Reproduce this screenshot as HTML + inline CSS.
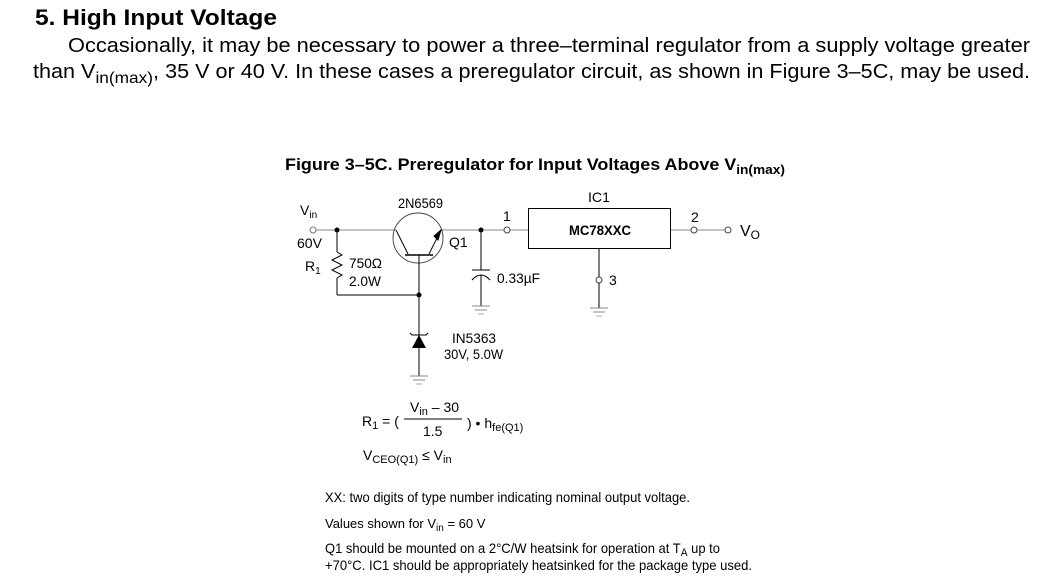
<!DOCTYPE html>
<html><head><meta charset="utf-8"><style>
html,body{margin:0;padding:0;background:#fff;width:1055px;height:587px;overflow:hidden}
svg{display:block}
text{font-family:"Liberation Sans",sans-serif;fill:#000}
</style></head><body>
<svg width="1055" height="587" viewBox="0 0 1055 587" xmlns="http://www.w3.org/2000/svg">
<text x="35" y="25" font-size="22" font-weight="bold" textLength="242" lengthAdjust="spacingAndGlyphs">5.  High Input Voltage</text>
<text x="68" y="52" font-size="20" textLength="962" lengthAdjust="spacingAndGlyphs">Occasionally, it may be necessary to power a three–terminal regulator from a supply voltage greater</text>
<text x="33" y="78" font-size="20" textLength="997" lengthAdjust="spacingAndGlyphs">than V<tspan font-size="16" dy="5">in(max)</tspan><tspan dy="-5">, 35 V or 40 V. In these cases a preregulator circuit, as shown in Figure 3–5C, may be used.</tspan></text>

<text x="285" y="170" font-size="17" font-weight="bold" textLength="500" lengthAdjust="spacingAndGlyphs">Figure 3–5C. Preregulator for Input Voltages Above V<tspan font-size="13" dy="4">in(max)</tspan></text>

<g stroke="#000" stroke-width="1" fill="none">
<line x1="316" y1="230" x2="396" y2="230" stroke="#888"/>
<line x1="441" y1="230" x2="504" y2="230" stroke="#888"/>
<line x1="510" y1="230" x2="528" y2="230" stroke="#888"/>
<line x1="670" y1="230" x2="691" y2="230" stroke="#888"/>
<line x1="697" y1="230" x2="725" y2="230" stroke="#888"/>
<circle cx="313" cy="230" r="3" fill="#fff" stroke="#777"/>
<circle cx="507" cy="230" r="3" fill="#fff" stroke="#444"/>
<circle cx="694" cy="230" r="3" fill="#fff" stroke="#444"/>
<circle cx="728" cy="230" r="3" fill="#fff" stroke="#444"/>
<circle cx="418" cy="238" r="25" stroke="#444"/>
<line x1="396" y1="230" x2="408" y2="254"/>
<line x1="441" y1="230" x2="429" y2="254"/>
<line x1="405" y1="255" x2="433" y2="255" stroke-width="1.5"/>
<polygon points="441,230 434,236 438,240" fill="#000"/>
<line x1="419" y1="255" x2="419" y2="376"/>
<line x1="337" y1="230" x2="337" y2="252"/>
<polyline points="337,252 342,255 332,260 342,265 332,270 342,275 337,278"/>
<line x1="337" y1="278" x2="337" y2="295"/>
<line x1="337" y1="295" x2="419" y2="295"/>
<polygon points="412,348 426,348 419,335" fill="#000" stroke="none"/>
<polyline points="410,333 412,335 426,335 428,333"/>
<line x1="410" y1="376" x2="428" y2="376" stroke="#888"/>
<line x1="413" y1="380" x2="425" y2="380" stroke="#888"/>
<line x1="416" y1="384" x2="422" y2="384" stroke="#aaa"/>
<line x1="481" y1="230" x2="481" y2="270"/>
<line x1="472" y1="270" x2="490" y2="270"/>
<path d="M472,280 Q481,270 490,280"/>
<line x1="481" y1="275" x2="481" y2="306"/>
<line x1="472" y1="306" x2="490" y2="306" stroke="#888"/>
<line x1="475" y1="310" x2="487" y2="310" stroke="#888"/>
<line x1="478" y1="314" x2="484" y2="314" stroke="#aaa"/>
<rect x="528.5" y="208.5" width="142" height="40"/>
<line x1="599" y1="249" x2="599" y2="277"/>
<circle cx="599" cy="280" r="3" fill="#fff" stroke="#444"/>
<line x1="599" y1="283" x2="599" y2="308"/>
<line x1="590" y1="308" x2="608" y2="308" stroke="#888"/>
<line x1="593" y1="312" x2="605" y2="312" stroke="#888"/>
<line x1="596" y1="316" x2="602" y2="316" stroke="#aaa"/>
<line x1="404" y1="419" x2="462" y2="419"/>
</g>
<circle cx="337" cy="230" r="2.5" fill="#000"/>
<circle cx="481" cy="230" r="2.5" fill="#000"/>
<circle cx="419" cy="295" r="2.5" fill="#000"/>

<g font-size="14">
<text x="300" y="215">V<tspan font-size="10" dy="3">in</tspan></text>
<text x="297" y="248" textLength="25" lengthAdjust="spacingAndGlyphs">60V</text>
<text x="305" y="271">R<tspan font-size="10" dy="3">1</tspan></text>
<text x="349" y="268" textLength="33" lengthAdjust="spacingAndGlyphs">750Ω</text>
<text x="349" y="286" textLength="32" lengthAdjust="spacingAndGlyphs">2.0W</text>
<text x="398" y="208" textLength="45" lengthAdjust="spacingAndGlyphs">2N6569</text>
<text x="449" y="247">Q1</text>
<text x="503" y="221">1</text>
<text x="588" y="202" textLength="22" lengthAdjust="spacingAndGlyphs">IC1</text>
<text x="569" y="235" font-weight="bold" textLength="62" lengthAdjust="spacingAndGlyphs">MC78XXC</text>
<text x="691" y="222">2</text>
<text x="740" y="236" font-size="16">V<tspan font-size="12" dy="3">O</tspan></text>
<text x="497" y="283" textLength="43" lengthAdjust="spacingAndGlyphs">0.33µF</text>
<text x="609" y="285">3</text>
<text x="452" y="343" textLength="44" lengthAdjust="spacingAndGlyphs">IN5363</text>
<text x="444" y="359" textLength="59" lengthAdjust="spacingAndGlyphs">30V, 5.0W</text>
<text x="410" y="412">V<tspan font-size="11" dy="3">in</tspan><tspan dy="-3"> – 30</tspan></text>
<text x="423" y="436">1.5</text>
<text x="362" y="426">R<tspan font-size="11" dy="3">1</tspan><tspan dy="-3"> = (</tspan></text>
<text x="467" y="428">) • h<tspan font-size="11" dy="3">fe(Q1)</tspan></text>
<text x="363" y="460">V<tspan font-size="11" dy="3">CEO(Q1)</tspan><tspan dy="-3"> ≤ V</tspan><tspan font-size="11" dy="3">in</tspan></text>
</g>

<g font-size="14">
<text x="325" y="502" textLength="365" lengthAdjust="spacingAndGlyphs">XX: two digits of type number indicating nominal output voltage.</text>
<text x="325" y="528" font-size="13">Values shown for V<tspan font-size="10" dy="3">in</tspan><tspan dy="-3"> = 60 V</tspan></text>
<text x="325" y="553" textLength="395" lengthAdjust="spacingAndGlyphs">Q1 should be mounted on a 2°C/W heatsink for operation at T<tspan font-size="11" dy="3">A</tspan><tspan dy="-3"> up to</tspan></text>
<text x="325" y="570" textLength="427" lengthAdjust="spacingAndGlyphs">+70°C. IC1 should be appropriately heatsinked for the package type used.</text>
</g>
</svg>
</body></html>
